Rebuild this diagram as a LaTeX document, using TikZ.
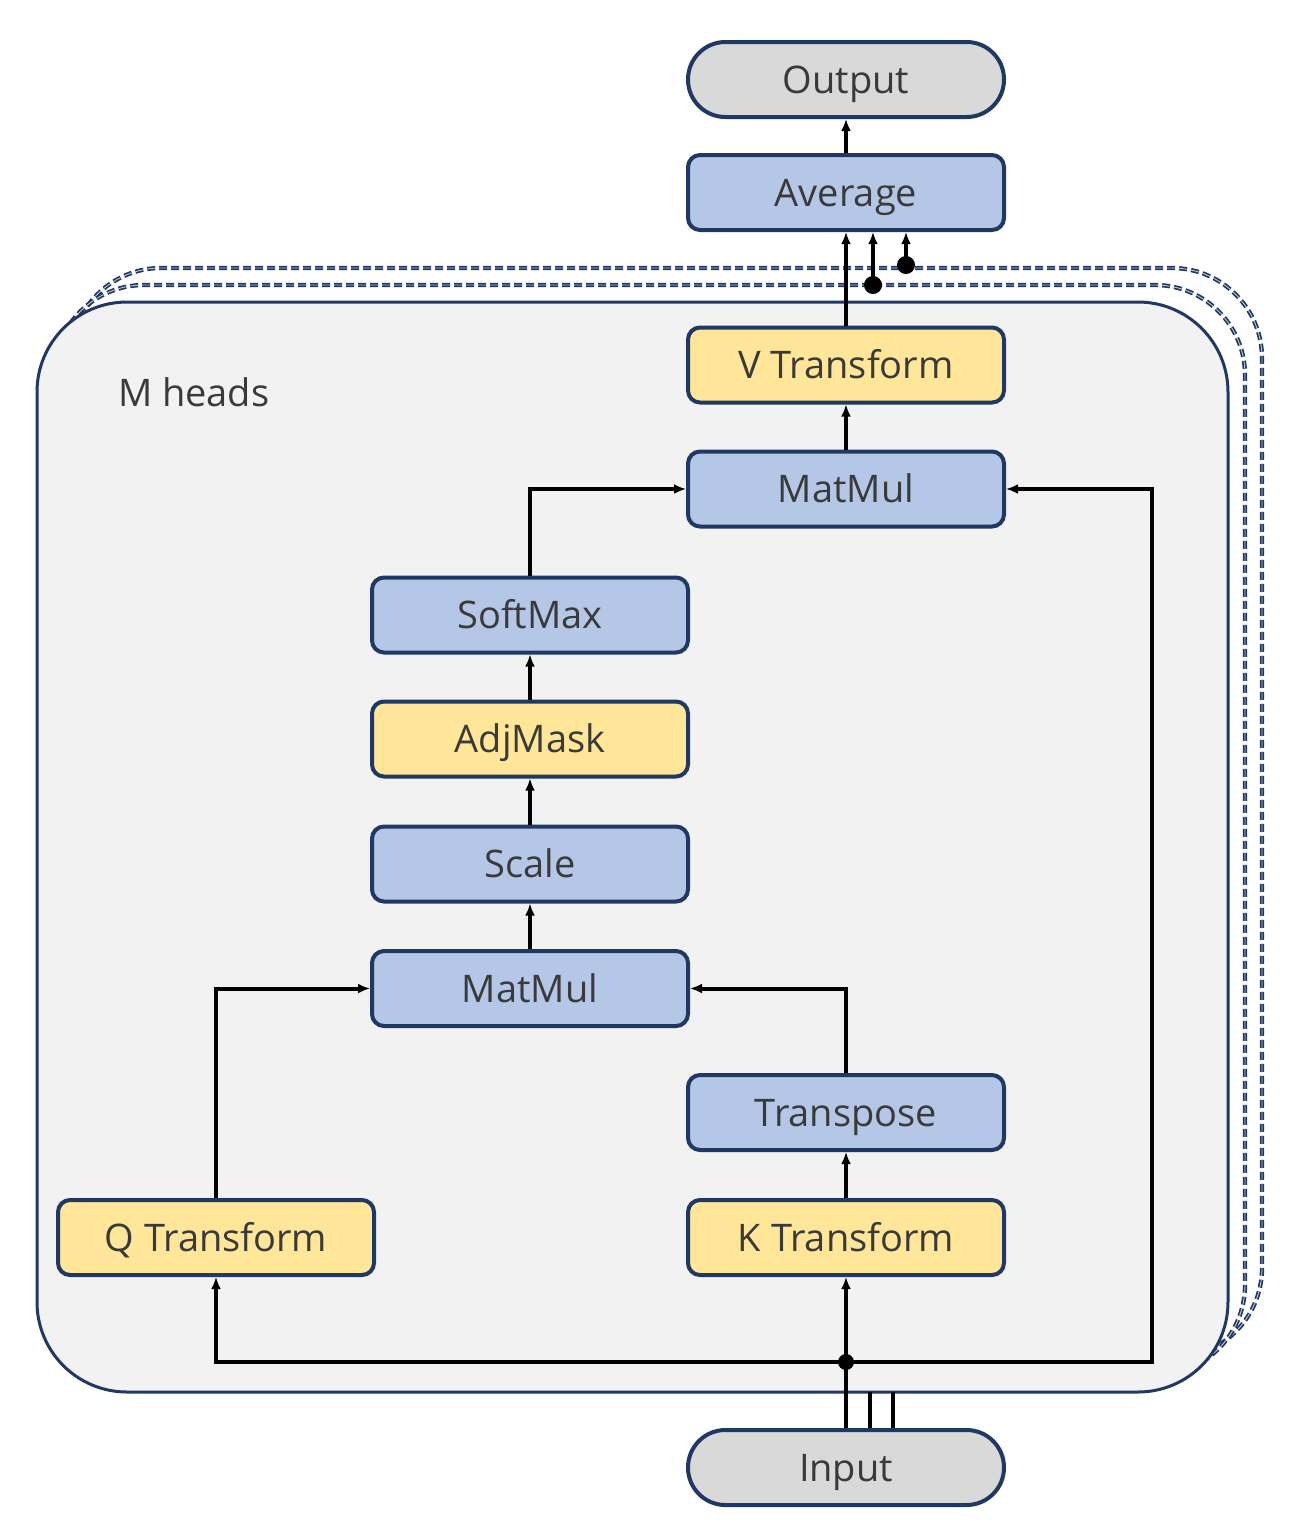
\documentclass[tikz,border=0pt]{standalone}
\usepackage{fontspec}
\setmainfont{Open Sans}
\usetikzlibrary{arrows.meta}
\definecolor{navy}{HTML}{1F3864}
\definecolor{boxblue}{HTML}{B4C7E7}
\definecolor{boxyel}{HTML}{FFE699}
\definecolor{pillgray}{HTML}{D9D9D9}
\definecolor{framefill}{HTML}{F2F2F2}
\definecolor{txt}{HTML}{3A3A3A}
\tikzset{
  box/.style={draw=navy, line width=2pt, rounded corners=6pt, minimum width=158pt,
    minimum height=37.5pt, inner sep=0pt, text height=13.6pt, text depth=0pt,
    font=\fontsize{19}{23}\selectfont, text=txt},
  bluebox/.style={box, fill=boxblue},
  yelbox/.style={box, fill=boxyel},
  pillbox/.style={box, fill=pillgray, rounded corners=18.7pt},
  conn/.style={line width=2pt, black, -{Latex[length=6pt,width=5pt]}},
  plainconn/.style={line width=2pt, black},
  dashframe/.style={draw=navy, double=navy!30, line width=0.85pt, double distance=0.45pt,
    dash pattern=on 4pt off 2pt, rounded corners=45pt},
  mainframe/.style={draw=navy, line width=1.5pt, fill=framefill, rounded corners=45pt},
  dotmark/.style={circle, fill=black, inner sep=0pt, minimum size=#1}
}
\begin{document}
\begin{tikzpicture}[x=0.5pt,y=-0.5pt]
\useasboundingbox (0,0) rectangle (1295,1533);
% frames
\draw[dashframe] (71,268) rectangle (1262,1358);
\draw[dashframe] (54,285) rectangle (1245,1375);
\draw[mainframe] (37,302) rectangle (1228,1392);
\node[anchor=west, font=\fontsize{19}{23}\selectfont, text=txt] (mh) at (111,392) {M heads};
% nodes
\node[pillbox] (out) at (846,79.5) {Output};
\node[bluebox] (avg) at (846,192.5) {Average};
\node[yelbox] (vt) at (846,365) {V Transform};
\node[bluebox] (mm1) at (846,489) {MatMul};
\node[bluebox] (sm) at (530,615) {SoftMax};
\node[yelbox] (adj) at (530,739) {AdjMask};
\node[bluebox] (sc) at (530,864) {Scale};
\node[bluebox] (mm2) at (530,988.5) {MatMul};
\node[bluebox] (tr) at (846,1112.5) {Transpose};
\node[yelbox] (qt) at (216,1237.5) {Q Transform};
\node[yelbox] (kt) at (846,1237.5) {K Transform};
\node[pillbox] (in) at (846,1467.5) {Input};
% coordinates
\coordinate (j) at (846,1362);
\coordinate (d1) at (873,285);
\coordinate (d2) at (906,265);
\coordinate (fb) at (846,1392);
\coordinate (rc) at (1152,1362);
\coordinate (ql) at (216,1362);
% connectors
\draw[conn] (avg.north) -- (out.south);
\draw[conn] (vt.north) -- (avg.south);
\draw[conn] (d1) -- (d1 |- avg.south);
\draw[conn] (d2) -- (d2 |- avg.south);
\node[dotmark=9pt] (d1dot) at (d1) {};
\node[dotmark=9pt] (d2dot) at (d2) {};
\draw[conn] (mm1.north) -- (vt.south);
\draw[conn] (sm.north) |- (mm1.west);
\draw[conn] (adj.north) -- (sm.south);
\draw[conn] (sc.north) -- (adj.south);
\draw[conn] (mm2.north) -- (sc.south);
\draw[conn] (qt.north) |- (mm2.west);
\draw[conn] (tr.north) |- (mm2.east);
\draw[conn] (kt.north) -- (tr.south);
\draw[conn] (j) -- (kt.south);
\draw[conn] (j) -- (ql) -- (qt.south);
\draw[conn] (j) -- (rc) |- (mm1.east);
\draw[plainconn] (in.north) -- (j);
\draw[plainconn] ([xshift=12pt]in.north) -- ([xshift=12pt]fb);
\draw[plainconn] ([xshift=23.5pt]in.north) -- ([xshift=23.5pt]fb);
\node[dotmark=8pt] (jdot) at (j) {};
\end{tikzpicture}
\end{document}
